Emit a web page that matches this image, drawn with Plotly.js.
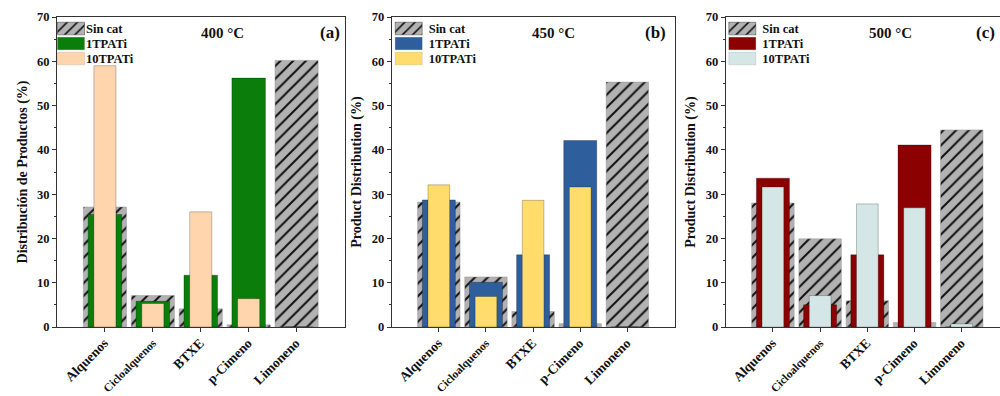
<!DOCTYPE html>
<html>
<head>
<meta charset="utf-8">
<script src="https://cdn.plot.ly/plotly-3.0.1.min.js"></script>
<style>html,body{margin:0;padding:0;background:#fff;}#chart{width:1000px;height:396px;}</style>
</head>
<body>
<div id="chart"></div>
<script>
const categories = ["Alquenos", "Cicloalquenos", "BTXE", "p-Cimeno", "Limoneno"];
const tickLabels = [
  "<span style='font-size:13.5px'>Alquenos</span>",
  "Cicloalquenos",
  "<span style='font-size:13.5px'>BTXE</span>",
  "<span style='font-size:13.5px'>p-Cimeno</span>",
  "<span style='font-size:13.5px'>Limoneno</span>"
];
const seriesNames = ["Sin cat", "1TPATi", "10TPATi"];

// Panel (a) 400 °C
const a_sincat = [27.1, 7.1, 4.1, 0.5, 60.2];
const a_1tpati = [25.4, 5.8, 11.7, 56.2, 0];
const a_10tpati = [59.0, 5.3, 26.0, 6.4, 0];
// Panel (b) 450 °C
const b_sincat = [28.2, 11.3, 3.5, 0.75, 55.3];
const b_1tpati = [28.7, 10.1, 16.3, 42.1, 0];
const b_10tpati = [32.1, 6.9, 28.6, 31.6, 0];
// Panel (c) 500 °C
const c_sincat = [28.0, 19.9, 5.9, 1.0, 44.5];
const c_1tpati = [33.6, 5.0, 16.3, 41.1, 0];
const c_10tpati = [31.6, 7.1, 27.8, 26.9, 0.7];

const panelTemps = ["400 °C", "450 °C", "500 °C"];
const panelLetters = ["(a)", "(b)", "(c)"];
const yTitles = ["Distribución de Productos (%)", "Product Distribution (%)", "Product Distribution (%)"];

const FONT = "Liberation Serif, Times New Roman, serif";
const colors1 = ["#0a7d0a", "#2e5f9c", "#8b0000"];
const colors10 = ["#ffd5ae", "#ffdc6c", "#d5e6e6"];
const data = [[a_sincat, a_1tpati, a_10tpati], [b_sincat, b_1tpati, b_10tpati], [c_sincat, c_1tpati, c_10tpati]];

const traces = [];
data.forEach((p, i) => {
  const xa = i === 0 ? "x" : "x" + (i + 1);
  const ya = i === 0 ? "y" : "y" + (i + 1);
  const lg = i === 0 ? "legend" : "legend" + (i + 1);
  traces.push({
    type: "bar", x: categories, y: p[0], name: seriesNames[0], xaxis: xa, yaxis: ya, legend: lg,
    width: 0.9,
    marker: {color: "#b2b2b2", line: {color: "#999", width: 0.5},
      pattern: {shape: "/", fgcolor: "#111", bgcolor: "#b2b2b2", size: 9, solidity: 0.22}},
    hoverinfo: "skip"
  });
  traces.push({
    type: "bar", x: categories, y: p[1], name: seriesNames[1], xaxis: xa, yaxis: ya, legend: lg,
    width: 0.7,
    marker: {color: colors1[i], line: {color: "rgba(0,0,0,0.35)", width: 0.8}},
    hoverinfo: "skip"
  });
  traces.push({
    type: "bar", x: categories, y: p[2], name: seriesNames[2], xaxis: xa, yaxis: ya, legend: lg,
    width: 0.46,
    marker: {color: colors10[i], line: {color: "rgba(0,0,0,0.3)", width: 0.8}},
    hoverinfo: "skip"
  });
});

const domains = [[0.057, 0.3445], [0.3917, 0.6745], [0.7257, 1.0]];
const ranges = [[-1, 5], [-1, 5], [-1, 4.81]];
const legendX = [0.051, 0.3887, 0.7223];

const layout = {
  width: 1000, height: 396,
  margin: {l: 0, r: 0, t: 17, b: 69},
  barmode: "overlay",
  paper_bgcolor: "#fff", plot_bgcolor: "#fff",
  font: {family: FONT, color: "#111"},
  showlegend: true,
  annotations: [],
};

for (let i = 0; i < 3; i++) {
  const sfx = i === 0 ? "" : String(i + 1);
  layout["xaxis" + sfx] = {
    domain: domains[i], anchor: "y" + sfx, type: "category",
    range: ranges[i], showline: true, linecolor: "#333", linewidth: 1, mirror: true,
    tickmode: "array", tickvals: categories, ticktext: tickLabels,
    ticks: "outside", ticklen: 4, tickcolor: "#333", tickangle: -45,
    tickfont: {family: FONT, size: 11.5, color: "#111", weight: "bold"},
    showgrid: false, zeroline: false, fixedrange: true
  };
  layout["yaxis" + sfx] = {
    domain: [0, 1], anchor: "x" + sfx, range: [0, 70], dtick: 10,
    showline: true, linecolor: "#333", linewidth: 1, mirror: true,
    ticks: "outside", ticklen: 4, tickcolor: "#333",
    minor: {dtick: 5, ticks: "outside", ticklen: 2, tickcolor: "#333"},
    tickfont: {family: FONT, size: 12.5, color: "#111", weight: "bold"},
    title: {text: yTitles[i], font: {family: FONT, size: 14, color: "#111", weight: "bold"}, standoff: 6},
    showgrid: false, zeroline: false, fixedrange: true
  };
  const lgName = i === 0 ? "legend" : "legend" + (i + 1);
  layout[lgName] = {
    x: legendX[i], y: 0.995, xanchor: "left", yanchor: "top",
    bgcolor: "rgba(0,0,0,0)", borderwidth: 0,
    font: {family: FONT, size: 12.5, color: "#111", weight: "bold"},
    tracegroupgap: 0, itemwidth: 30
  };
}

const tempX = [0.222, 0.553, 0.890];
const letterX = [0.330, 0.655, 0.985];
for (let i = 0; i < 3; i++) {
  layout.annotations.push({
    xref: "paper", yref: "paper", x: tempX[i], y: 0.948, text: panelTemps[i], showarrow: false,
    font: {family: FONT, size: 15, color: "#111", weight: "bold"}, xanchor: "center", yanchor: "middle"
  });
  layout.annotations.push({
    xref: "paper", yref: "paper", x: letterX[i], y: 0.95, text: panelLetters[i], showarrow: false,
    font: {family: FONT, size: 17, color: "#111", weight: "bold"}, xanchor: "center", yanchor: "middle"
  });
}

Plotly.newPlot("chart", traces, layout, {staticPlot: true, displayModeBar: false}).then(gd => {
  // Restyle legend symbols to wide boxes and tighten rows, like the reference
  gd.querySelectorAll("g.legend, g.legend2, g.legend3").forEach(lg => {
    lg.querySelectorAll("g.traces").forEach((tr, k) => {
      tr.setAttribute("transform", "translate(0," + (10 + 15 * k) + ")");
      tr.querySelectorAll("g.legendpoints path").forEach(p => {
        p.setAttribute("d", "M13.5,6.3H-13.5V-6.3H13.5Z");
        p.style.strokeWidth = "0.8px";
        p.style.stroke = "rgba(0,0,0,0.45)";
      });
      const t = tr.querySelector("text.legendtext");
      if (t) t.setAttribute("x", "35");
    });
  });
});
</script>
</body>
</html>
